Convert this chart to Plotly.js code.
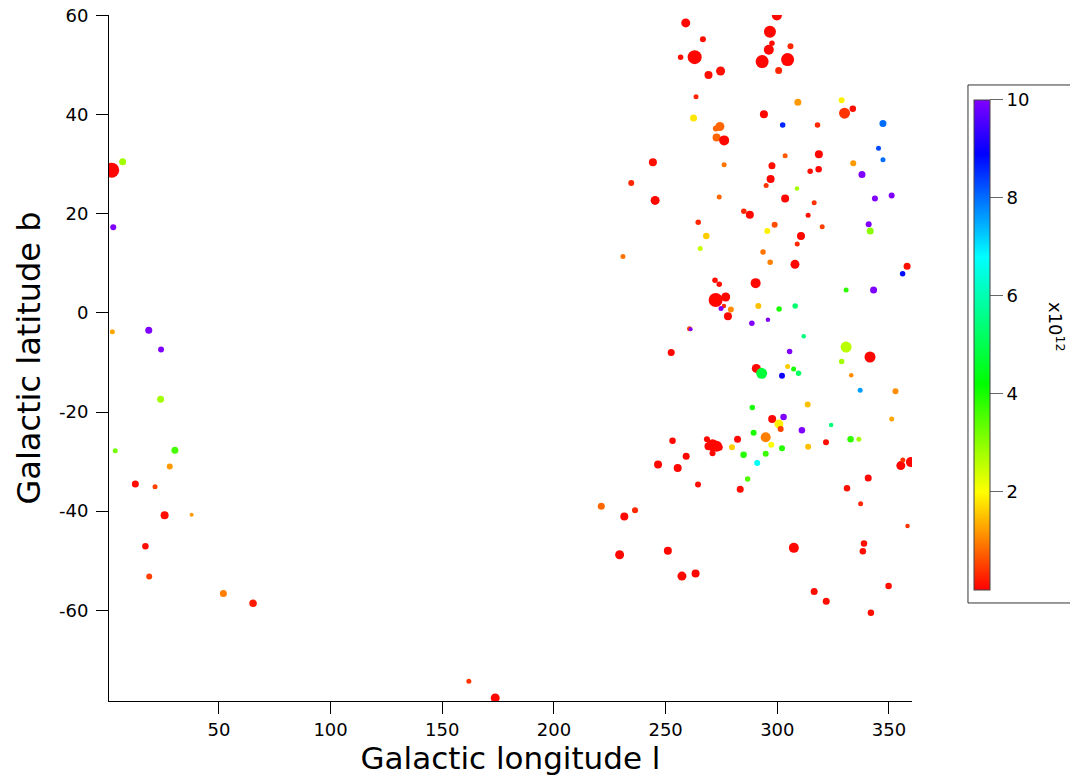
<!DOCTYPE html>
<html>
<head>
<meta charset="utf-8">
<script src="https://cdn.plot.ly/plotly-3.0.1.min.js"></script>
<style>html,body{margin:0;padding:0;background:#fff;}#chart{width:1070px;height:778px;}</style>
</head>
<body>
<div id="chart"></div>
<script>
// Galactic longitude (deg)
const lon = [2.0,6.9,2.7,2.3,18.6,24.1,23.9,3.6,30.3,28.0,12.6,21.4,25.7,37.8,17.1,18.8,52.0,65.3,161.9,173.7,
259.0,266.7,256.7,263.0,269.2,274.6,263.6,262.5,274.3,272.5,272.8,276.2,244.3,276.2,299.8,296.7,297.6,296.2,305.9,293.2,
304.6,300.6,309.2,328.8,330.1,333.8,294.0,302.4,318.0,347.3,345.3,347.3,303.5,318.6,297.6,334.0,234.6,245.3,274.0,285.0,
287.7,264.6,268.2,265.5,230.9,272.1,274.0,290.3,272.4,276.9,276.1,274.8,279.2,291.5,277.9,288.6,260.7,261.2,314.7,318.5,
337.9,297.0,295.0,308.8,343.7,351.2,303.5,316.5,313.8,298.8,320.1,295.5,340.9,341.6,310.6,308.9,293.6,296.8,307.9,358.1,
356.1,330.8,343.1,300.8,308.0,295.8,252.5,290.6,288.8,289.4,253.1,268.5,271.0,272.8,269.2,274.0,282.2,279.7,271.0,284.9,
291.0,259.2,246.6,255.4,286.7,264.5,283.4,311.8,330.8,341.5,305.5,328.8,293.0,304.6,307.3,309.5,302.1,333.1,337.1,352.9,
313.6,351.2,297.7,302.8,300.7,301.5,311.0,324.1,294.8,297.3,302.1,313.8,321.8,332.8,336.5,294.8,355.3,359.8,356.2,340.7,
331.2,221.2,236.3,231.5,229.4,251.0,257.3,263.4,337.3,358.3,307.4,338.8,338.3,349.8,316.5,321.9,341.9];

// Galactic latitude (deg)
const lat = [28.8,30.5,17.3,-3.8,-3.5,-7.4,-17.4,-27.8,-27.7,-31.0,-34.5,-35.1,-40.8,-40.7,-47.1,-53.2,-56.6,-58.6,-74.3,-77.7,
58.5,55.2,51.6,51.6,48.0,48.8,43.6,39.3,37.6,37.2,35.4,34.8,30.4,29.9,60.0,56.7,54.4,53.1,53.8,50.7,
51.1,48.9,42.5,42.9,40.3,41.2,40.1,37.9,37.9,38.2,33.2,30.9,31.7,32.0,29.7,30.2,26.2,22.7,23.4,20.5,
19.8,18.3,15.5,13.0,11.4,6.6,5.8,6.0,2.6,3.2,1.4,0.9,0.7,1.4,-0.7,-2.1,-3.2,-3.3,28.6,29.0,
27.9,27.0,25.7,25.1,23.1,23.7,23.1,22.2,19.7,17.8,17.4,16.5,17.9,16.5,15.5,13.9,12.3,10.2,9.8,9.4,
7.9,4.6,4.6,0.8,1.4,-1.4,-8.0,-11.2,-19.1,-24.2,-25.8,-25.5,-26.7,-26.9,-26.9,-27.1,-25.5,-27.1,-28.3,-28.6,
-30.3,-28.9,-30.6,-31.3,-33.5,-34.6,-35.6,-4.7,-6.9,-8.9,-7.8,-9.8,-12.2,-10.8,-11.3,-12.2,-12.7,-12.6,-15.6,-15.8,
-18.5,-21.4,-21.4,-21.0,-22.4,-23.4,-23.7,-22.6,-25.1,-26.6,-27.3,-27.0,-26.1,-25.5,-25.5,-28.4,-30.8,-30.1,-29.7,-33.3,
-35.4,-39.0,-39.8,-41.1,-48.8,-48.0,-53.1,-52.6,-38.5,-43.0,-47.4,-46.5,-48.1,-55.1,-56.2,-58.2,-60.5];

// colour variable (units of 1e12)
const colorVal = [0.05,2.8,10,1.3,10,10,2.8,3.2,3.6,1.2,0.1,0.5,0.1,1.2,0.1,0.5,1.0,0.2,0.4,0.05,
0.05,0.1,0.1,0.05,0.1,0.1,0.3,1.8,0.8,0.8,0.8,0.05,0.1,0.9,0.05,0.05,0.1,0.05,0.3,0.05,
0.05,0.3,1.2,1.9,0.4,0.1,0.05,8.6,0.3,8.0,8.3,8.0,0.7,0.05,0.1,1.2,0.3,0.05,0.8,0.3,
0.05,0.3,1.6,2.5,0.9,0.1,0.1,0.05,0.05,0.05,0.3,10,1.1,1.5,0.05,10,0.5,10,0.1,0.05,
10,0.05,0.4,2.8,10,10,0.05,0.4,0.1,0.6,0.5,1.9,10,3.0,0.05,0.3,0.9,1.0,0.05,0.1,
8.8,3.8,10,4.0,5.3,10,0.05,0.05,4.0,4.0,0.05,0.05,0.05,0.05,0.05,0.05,0.05,1.6,0.05,3.9,
6.7,0.05,0.05,0.05,3.5,0.1,0.1,5.5,2.6,0.05,10,2.8,4.8,1.6,4.0,5.2,9.0,1.1,7.6,1.1,
1.5,1.3,0.05,10,1.9,0.5,10,5.4,1.0,2.0,3.9,1.5,0.1,3.8,2.8,3.7,0.05,0.05,0.4,0.05,
0.1,0.8,0.3,0.05,0.05,0.05,0.05,0.05,0.3,0.4,0.05,0.1,0.1,0.1,0.1,0.1,0.1];

// size variable (relative marker magnitude)
const sizeVal = [15,7,6,5,7,6,7,5,7,6,7,5,8,4,6.5,6,7,7.5,5,9,
9,6,5.5,14,8,9,5,7,9,6,8,10,8,5,10,12,5.5,10,6,13,
13,7,7,6,11,6.5,8,5.5,5.5,7,5,5,5,8,7,6,6,9,5,5.5,
8,5.5,6.5,5,5,5.5,5.5,10,14,9,4.5,5,6,6,8,5.5,5,4,5.5,6.5,
7,8,5,4.5,6,6,8,5,5,6,5,6,6,7,8,5,5.5,5.5,9,7,
5.5,5,7,5.5,5.5,4.5,7,9,5.5,6,6.5,6,12,11,8,7,7,6,6,6.5,
6,7,8,8,5.5,6,7,4.5,11,11,5.5,5.5,11,5,5,5.5,6,4.5,5,6,
6,5,8,6.5,9,6,6.5,4.5,10,6,6,6,6,6.5,5,6,9,10,5,7,
6.5,7,6,8,9,8,9,8,5,4.5,10,6.5,6.5,6.5,7,7,6.5];

const xTicks = [50,100,150,200,250,300,350];
const yTicks = [-60,-40,-20,0,20,40,60];
const cbTicks = [2,4,6,8,10];

const rainbow = [
  [0.00,'rgb(255,0,0)'],
  [0.10,'rgb(255,128,0)'],
  [0.20,'rgb(255,255,0)'],
  [0.42,'rgb(0,255,0)'],
  [0.68,'rgb(0,255,255)'],
  [0.89,'rgb(0,0,255)'],
  [1.00,'rgb(128,0,255)']
];

const FONT = 'DejaVu Sans, sans-serif';

const trace = {
  type: 'scatter',
  mode: 'markers',
  x: lon,
  y: lat,
  marker: {
    size: sizeVal,
    sizemode: 'diameter',
    color: colorVal,
    cmin: 0,
    cmax: 10,
    colorscale: rainbow,
    opacity: 1,
    line: {width: 0},
    showscale: true,
    colorbar: {
      x: 1.0772, xanchor: 'left', xpad: 0,
      y: 0.519, yanchor: 'middle', ypad: 0,
      thickness: 16,
      lenmode: 'pixels', len: 490,
      outlinewidth: 1, outlinecolor: '#444',
      borderwidth: 0,
      tickmode: 'array', tickvals: cbTicks, ticktext: cbTicks.map(String),
      ticks: 'outside', ticklen: 13, tickcolor: '#666', tickwidth: 1,
      tickfont: {family: FONT, size: 18, color: '#000'}
    }
  },
  hoverinfo: 'x+y'
};

const layout = {
  width: 1070, height: 778,
  margin: {l: 109, r: 158, t: 15, b: 77},
  paper_bgcolor: '#fff', plot_bgcolor: '#fff',
  showlegend: false,
  font: {family: FONT, color: '#000'},
  xaxis: {
    range: [0.8, 360.3],
    tickmode: 'array', tickvals: xTicks, ticktext: xTicks.map(String),
    ticks: 'outside', ticklen: 12, tickcolor: '#000', tickwidth: 1,
    showline: true, linecolor: '#000', linewidth: 1,
    showgrid: false, zeroline: false, mirror: false,
    tickfont: {family: FONT, size: 18, color: '#000'},
    title: {text: 'Galactic longitude l', font: {family: FONT, size: 31, color: '#000'}, standoff: 2}
  },
  yaxis: {
    range: [-78.3, 60.1],
    tickmode: 'array', tickvals: yTicks, ticktext: yTicks.map(String),
    ticks: 'outside', ticklen: 12, tickcolor: '#000', tickwidth: 1,
    ticklabelstandoff: 4,
    showline: true, linecolor: '#000', linewidth: 1,
    showgrid: false, zeroline: false, mirror: false,
    tickfont: {family: FONT, size: 18, color: '#000'},
    title: {text: 'Galactic latitude b', font: {family: FONT, size: 32, color: '#000'}, standoff: 8}
  },
  shapes: [{
    type: 'rect', xref: 'paper', yref: 'paper',
    x0: 1.0697, x1: 1.21, y0: 0.1429, y1: 0.898,
    line: {color: '#333', width: 1}, fillcolor: 'rgba(0,0,0,0)'
  }],
  annotations: [{
    xref: 'paper', yref: 'paper', x: 1.1795, y: 0.545,
    text: 'x10<sup>12</sup>', showarrow: false, textangle: 90,
    font: {family: FONT, size: 18, color: '#000'},
    xanchor: 'center', yanchor: 'middle'
  }]
};

Plotly.newPlot('chart', [trace], layout, {displayModeBar: false, staticPlot: true});
</script>
</body>
</html>
